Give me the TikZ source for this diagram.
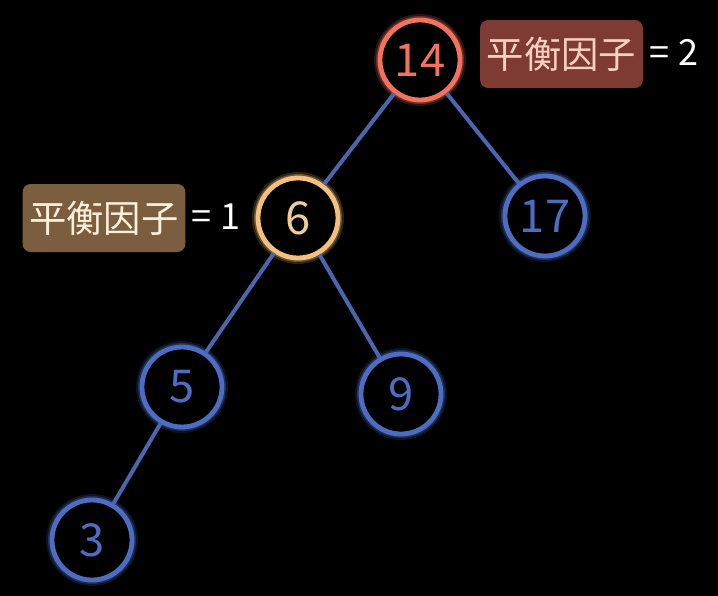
\documentclass[tikz,border=0pt]{standalone}
\usepackage{fontspec}
\setmainfont{Noto Sans CJK SC}
\definecolor{bnode}{HTML}{4C6DC2}
\definecolor{bedge}{HTML}{4A66AE}
\definecolor{rnode}{HTML}{F2725F}
\definecolor{onode}{HTML}{F4C07E}
\definecolor{otext}{HTML}{F2CC98}
\definecolor{rbox}{HTML}{7E3B33}
\definecolor{rboxtext}{HTML}{FFD0C2}
\definecolor{obox}{HTML}{7B5D40}
\definecolor{oboxtext}{HTML}{FFF0DA}
\tikzset{
  tnode/.style={circle, minimum size=60pt, inner sep=0pt, line width=3.6pt, draw=#1, fill=black, font=\fontsize{34}{34}\selectfont},
  glowa/.style={circle, minimum size=60pt, inner sep=0pt, draw=#1, line width=9pt, draw opacity=0.18},
  glowb/.style={circle, minimum size=60pt, inner sep=0pt, draw=#1, line width=6pt, draw opacity=0.3},
  edge/.style={draw=bedge, line width=3pt},
  bfbox/.style={rounded corners=6pt, fill=#1, inner sep=0pt, minimum width=122pt, minimum height=51pt, font=\fontsize{28}{28}\selectfont},
  eqlabel/.style={text=white, font=\fontsize{27}{27}\selectfont, inner sep=0pt}
}
\begin{document}
\begin{tikzpicture}[x=0.75pt,y=-0.75pt]
\fill[black] (0,0) rectangle (718,596);
\useasboundingbox (0,0) rectangle (718,596);
% glows
\foreach \p/\c in {{(420,60)}/rnode,{(298,218)}/onode,{(545,216)}/bnode,{(182,387)}/bnode,{(401,394)}/bnode,{(92,540)}/bnode}{
  \node[glowa=\c] at \p {};
  \node[glowb=\c] at \p {};
}
\node[tnode=rnode, text=rnode] (n14) at (420,60) {14};
\node[tnode=onode, text=otext] (n6) at (298,218) {6};
\node[tnode=bnode, text=bnode] (n17) at (545,216) {17};
\node[tnode=bnode, text=bnode] (n5) at (182,387) {5};
\node[tnode=bnode, text=bnode] (n9) at (401,394) {9};
\node[tnode=bnode, text=bnode] (n3) at (92,540) {3};
\draw[edge] (n14) -- (n6);
\draw[edge] (n14) -- (n17);
\draw[edge] (n6) -- (n5);
\draw[edge] (n6) -- (n9);
\draw[edge] (n5) -- (n3);
\node[bfbox=rbox, text=rboxtext] (b1) at (561.5,54) {平衡因子};
\node[eqlabel] (e1) at (674,52) {= 2};
\node[bfbox=obox, text=oboxtext] (b2) at (104,218) {平衡因子};
\node[eqlabel] (e2) at (216,217) {= 1};
\end{tikzpicture}
\end{document}
